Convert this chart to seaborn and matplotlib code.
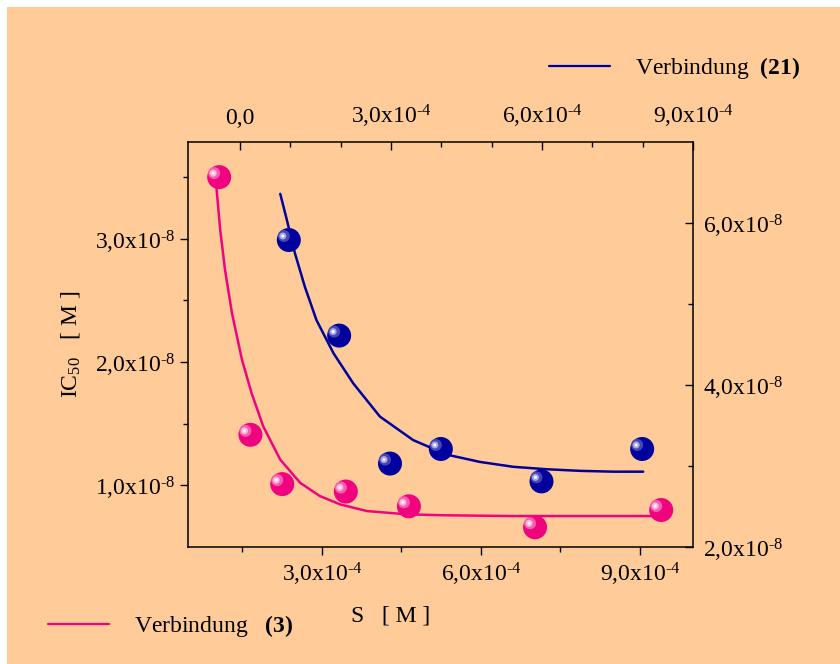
import matplotlib
matplotlib.use("Agg")
import matplotlib.pyplot as plt
from matplotlib.transforms import offset_copy
from matplotlib.lines import Line2D
from matplotlib.patches import Rectangle
import seaborn as sns
import pandas as pd

# ---------------- data ----------------
# Verbindung (3): bottom x-axis, left y-axis
s3 = [1.06e-4, 1.65e-4, 2.25e-4, 3.45e-4, 4.64e-4, 7.02e-4, 9.40e-4]
ic3 = [3.50e-8, 1.41e-8, 1.01e-8, 0.95e-8, 0.83e-8, 0.66e-8, 0.80e-8]
fit3_s = [1.01e-4, 1.08e-4, 1.17e-4, 1.30e-4, 1.49e-4, 1.67e-4, 1.89e-4, 2.21e-4,
          2.59e-4, 2.96e-4, 3.34e-4, 3.84e-4, 4.60e-4, 5.35e-4, 6.61e-4, 7.87e-4, 9.38e-4]
fit3_ic = [3.41e-8, 3.07e-8, 2.75e-8, 2.40e-8, 2.02e-8, 1.75e-8, 1.48e-8, 1.21e-8,
           1.02e-8, 0.913e-8, 0.846e-8, 0.792e-8, 0.765e-8, 0.757e-8, 0.751e-8, 0.751e-8, 0.751e-8]

# Verbindung (21): top x-axis, right y-axis
s21 = [0.97e-4, 1.97e-4, 2.98e-4, 3.99e-4, 5.99e-4, 7.99e-4]
ic21 = [5.79e-8, 4.61e-8, 3.03e-8, 3.21e-8, 2.81e-8, 3.21e-8]
fit21_s = [0.80e-4, 0.93e-4, 1.09e-4, 1.29e-4, 1.52e-4, 1.86e-4, 2.25e-4, 2.78e-4,
           3.44e-4, 4.11e-4, 4.77e-4, 5.43e-4, 6.09e-4, 6.76e-4, 7.42e-4, 8.01e-4]
fit21_ic = [6.36e-8, 6.04e-8, 5.63e-8, 5.21e-8, 4.80e-8, 4.39e-8, 4.02e-8, 3.61e-8,
            3.32e-8, 3.14e-8, 3.05e-8, 2.99e-8, 2.96e-8, 2.94e-8, 2.93e-8, 2.93e-8]

# ticks
xb_ticks = [3e-4, 6e-4, 9e-4]
xb_labels = ["3,0x10$^{\u2010\\mathregular{4}}$", "6,0x10$^{\u2010\\mathregular{4}}$",
             "9,0x10$^{\u2010\\mathregular{4}}$"]
xb_minor = [1.5e-4, 4.5e-4, 7.5e-4]
xt_ticks = [0, 3e-4, 6e-4, 9e-4]
xt_labels = ["0,0", "3,0x10$^{\u2010\\mathregular{4}}$", "6,0x10$^{\u2010\\mathregular{4}}$",
             "9,0x10$^{\u2010\\mathregular{4}}$"]
xt_minor = [1e-4, 2e-4, 4e-4, 5e-4, 7e-4, 8e-4]
yl_ticks = [1e-8, 2e-8, 3e-8]
yl_labels = ["1,0x10$^{\u2010\\mathregular{8}}$", "2,0x10$^{\u2010\\mathregular{8}}$",
             "3,0x10$^{\u2010\\mathregular{8}}$"]
yl_minor = [1.5e-8, 2.5e-8, 3.5e-8]
yr_ticks = [2e-8, 4e-8, 6e-8]
yr_labels = ["2,0x10$^{\u2010\\mathregular{8}}$", "4,0x10$^{\u2010\\mathregular{8}}$",
             "6,0x10$^{\u2010\\mathregular{8}}$"]
yr_minor = [3e-8, 5e-8]

label3 = r"Verbindung   $\mathbf{(3)}$"
label21 = r"Verbindung  $\mathbf{(21)}$"

# ---------------- style ----------------
sns.set_style("ticks")
plt.rcParams["font.family"] = ["Liberation Serif", "DejaVu Serif"]
plt.rcParams["mathtext.fontset"] = "custom"
plt.rcParams["mathtext.rm"] = "Liberation Serif"
plt.rcParams["mathtext.it"] = "Liberation Serif:italic"
plt.rcParams["mathtext.bf"] = "Liberation Serif:bold"
plt.rcParams["text.color"] = "black"
plt.rcParams["axes.labelcolor"] = "black"
plt.rcParams["xtick.color"] = "black"
plt.rcParams["ytick.color"] = "black"

PEACH = "#FFCC99"
PINK = "#F0037F"
BLUE = "#00009C"
FS = 17

W, H = 840, 664
fig = plt.figure(figsize=(W / 100, H / 100), dpi=100, facecolor="white")
fig.add_artist(Rectangle((7 / W, 0), 1 - 7 / W, 1 - 7 / H, transform=fig.transFigure,
                         facecolor=PEACH, edgecolor="none", zorder=-10))

rect = [188 / W, 1 - 547 / H, 505 / W, 405 / H]
ax = fig.add_axes(rect)
ax.set_facecolor(PEACH)
ax2 = fig.add_axes(rect, facecolor="none")

df3p = pd.DataFrame({"S": s3, "IC": ic3})
df3f = pd.DataFrame({"S": fit3_s, "IC": fit3_ic})
df21p = pd.DataFrame({"S": s21, "IC": ic21})
df21f = pd.DataFrame({"S": fit21_s, "IC": fit21_ic})


def balls(a, df, base, mid, light):
    sns.scatterplot(data=df, x="S", y="IC", ax=a, s=(24 * 0.72) ** 2,
                    color=base, edgecolor="none", linewidth=0, zorder=5, legend=False)
    for col, d, dx, dy in [(mid, 12, -5, 4), (light, 7, -6, 4), ("white", 3, -6, 4)]:
        tr = offset_copy(a.transData, fig=fig, x=dx, y=dy, units="dots")
        sns.scatterplot(data=df, x="S", y="IC", ax=a, s=(d * 0.72) ** 2,
                        color=col, edgecolor="none", linewidth=0, zorder=6,
                        legend=False, transform=tr)


sns.lineplot(data=df3f, x="S", y="IC", ax=ax, color=PINK, lw=1.8, sort=False,
             estimator=None, zorder=4)
balls(ax, df3p, PINK, "#F860AE", "#FFB8DC")

sns.lineplot(data=df21f, x="S", y="IC", ax=ax2, color=BLUE, lw=1.8, sort=False,
             estimator=None, zorder=4)
balls(ax2, df21p, BLUE, "#4646B8", "#A8A8E4")

ax.set_xlim(4.72e-5, 1.0e-3)
ax.set_ylim(0.5e-8, 3.785e-8)
ax2.set_xlim(-1.033e-4, 9.0e-4)
ax2.set_ylim(2e-8, 7e-8)

# ----- axes: bottom/left -----
ax.set_xticks(xb_ticks, xb_labels)
ax.set_xticks(xb_minor, minor=True)
ax.set_yticks(yl_ticks, yl_labels)
ax.set_yticks(yl_minor, minor=True)
for sp in ax.spines.values():
    sp.set_visible(True)
    sp.set_color("black")
    sp.set_linewidth(1.1)
ax.tick_params(axis="both", which="both", direction="out", top=False, right=False,
               color="black", width=1.0, labelsize=FS, labelcolor="black")
ax.tick_params(axis="both", which="major", length=6)
ax.tick_params(axis="both", which="minor", length=3.5)
ax.tick_params(axis="x", which="major", pad=4)
ax.tick_params(axis="y", which="major", pad=3)

ax.set_xlabel(r"S   [ M ]", fontsize=FS, color="black")
ax.xaxis.set_label_coords(0.402, -0.145)
ax.set_ylabel(r"IC$_{\mathregular{50}}$   [ M ]", fontsize=FS, color="black")
ax.yaxis.set_label_coords(-0.21, 0.5)

# ----- axes: top/right -----
for sp in ax2.spines.values():
    sp.set_visible(False)
ax2.xaxis.tick_top()
ax2.yaxis.tick_right()
ax2.set_xticks(xt_ticks, xt_labels)
ax2.set_xticks(xt_minor, minor=True)
ax2.set_yticks(yr_ticks, yr_labels)
ax2.set_yticks(yr_minor, minor=True)
ax2.tick_params(axis="both", which="both", direction="in", bottom=False, left=False,
                color="black", width=1.0, labelsize=FS, labelcolor="black")
ax2.tick_params(axis="both", which="major", length=6)
ax2.tick_params(axis="both", which="minor", length=3.5)
ax2.tick_params(axis="x", which="major", pad=9)
ax2.tick_params(axis="y", which="major", pad=7)
ax2.set_xlabel("")
ax2.set_ylabel("")

# ----- legends -----
h21 = Line2D([], [], color=BLUE, lw=1.6)
h3 = Line2D([], [], color=PINK, lw=1.6)
fig.legend([h21], [label21], loc="center left", bbox_to_anchor=(549 / W, 1 - 68 / H),
           frameon=False, fontsize=FS, handlelength=2.6, handletextpad=1.05,
           borderpad=0, borderaxespad=0, labelcolor="black")
fig.legend([h3], [label3], loc="center left", bbox_to_anchor=(48 / W, 1 - 626 / H),
           frameon=False, fontsize=FS, handlelength=2.6, handletextpad=1.05,
           borderpad=0, borderaxespad=0, labelcolor="black")

fig.savefig("out.png", dpi=100, facecolor=fig.get_facecolor())
